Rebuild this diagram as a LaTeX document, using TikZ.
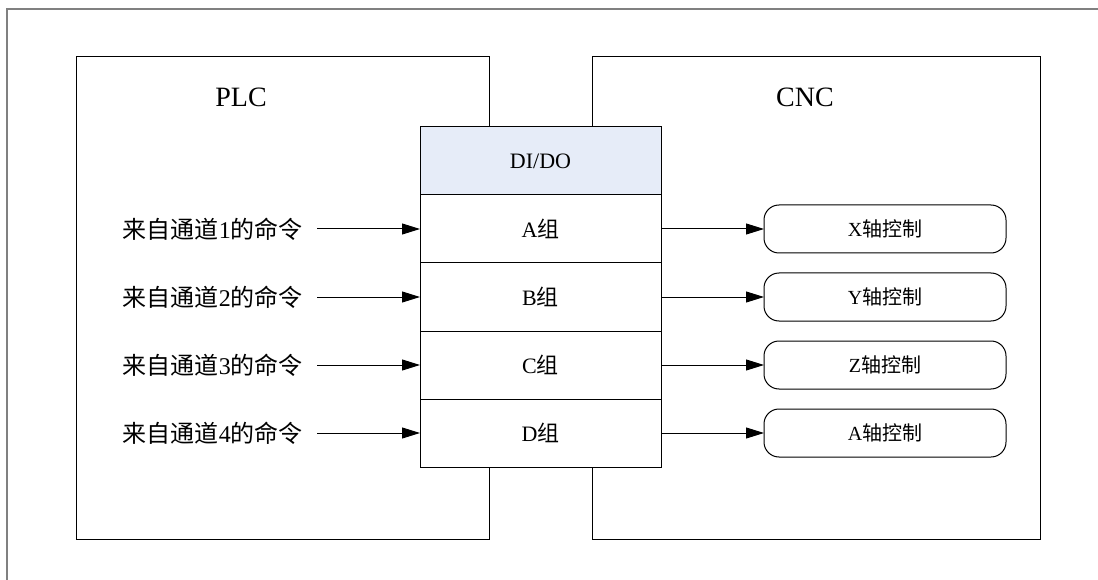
\documentclass[tikz,border=0pt]{standalone}
\usepackage{fontspec}
\setmainfont{Liberation Serif}
\newfontfamily\cjk{Noto Sans CJK SC}
\usepackage{tikz}
\usetikzlibrary{arrows.meta, positioning}
\definecolor{HeadBlue}{RGB}{230, 236, 248}
\newcommand{\zh}[1]{{\cjk #1}}
\tikzset{
	unitbox/.style={draw, line width=1pt, fill=white, minimum width=241pt, minimum height=68pt, inner sep=0pt, outer sep=0pt, font=\fontsize{22}{26}\selectfont},
	axisbox/.style={draw, line width=1pt, rounded corners=15pt, minimum width=242pt, minimum height=48pt, inner sep=0pt, outer sep=0pt, font=\fontsize{20}{24}\selectfont},
	cmdarrow/.style={line width=1pt, -{Triangle[length=18pt, width=11pt]}}
}

\begin{document}
\begin{tikzpicture}[x=1pt, y=-1pt]
	\useasboundingbox (0,0) rectangle (1098,580);
	\clip (0,0) rectangle (1098,580);
	% outer frame, cut off at the page edge
	\draw[gray, line width=2pt] (7,9) rectangle (1130,610);
	% PLC and CNC
	\draw[line width=1pt] (76,57) rectangle (489,539);
	\draw[line width=1pt] (592,57) rectangle (1040,539);
	\node[font=\fontsize{28}{32}\selectfont] (plc) at (241,97) {PLC};
	\node[font=\fontsize{28}{32}\selectfont] (cnc) at (805,97) {CNC};
	% DI/DO stack
	\node[unitbox, fill=HeadBlue] (dido) at (540.5,161) {DI/DO};
	\foreach \g/\k/\ax [count=\i] in {A/1/X, B/2/Y, C/3/Z, D/4/A} {
		\node[unitbox] (g\g) at (540.5,{161+68*\i}) {\g\zh{组}};
		\node[anchor=east, inner sep=0pt, font=\fontsize{24}{28}\selectfont] (cmd\k) at (303,{161+68*\i}) {\zh{来自通道}\k\zh{的命令}};
		\node[axisbox] (ax\g) at (885,{161+68*\i}) {\ax\zh{轴控制}};
		\draw[cmdarrow, shorten <=14pt] (cmd\k.east) -- (g\g.west);
		\draw[cmdarrow] (g\g.east) -- (ax\g.west);
	}
\end{tikzpicture}
\end{document}
